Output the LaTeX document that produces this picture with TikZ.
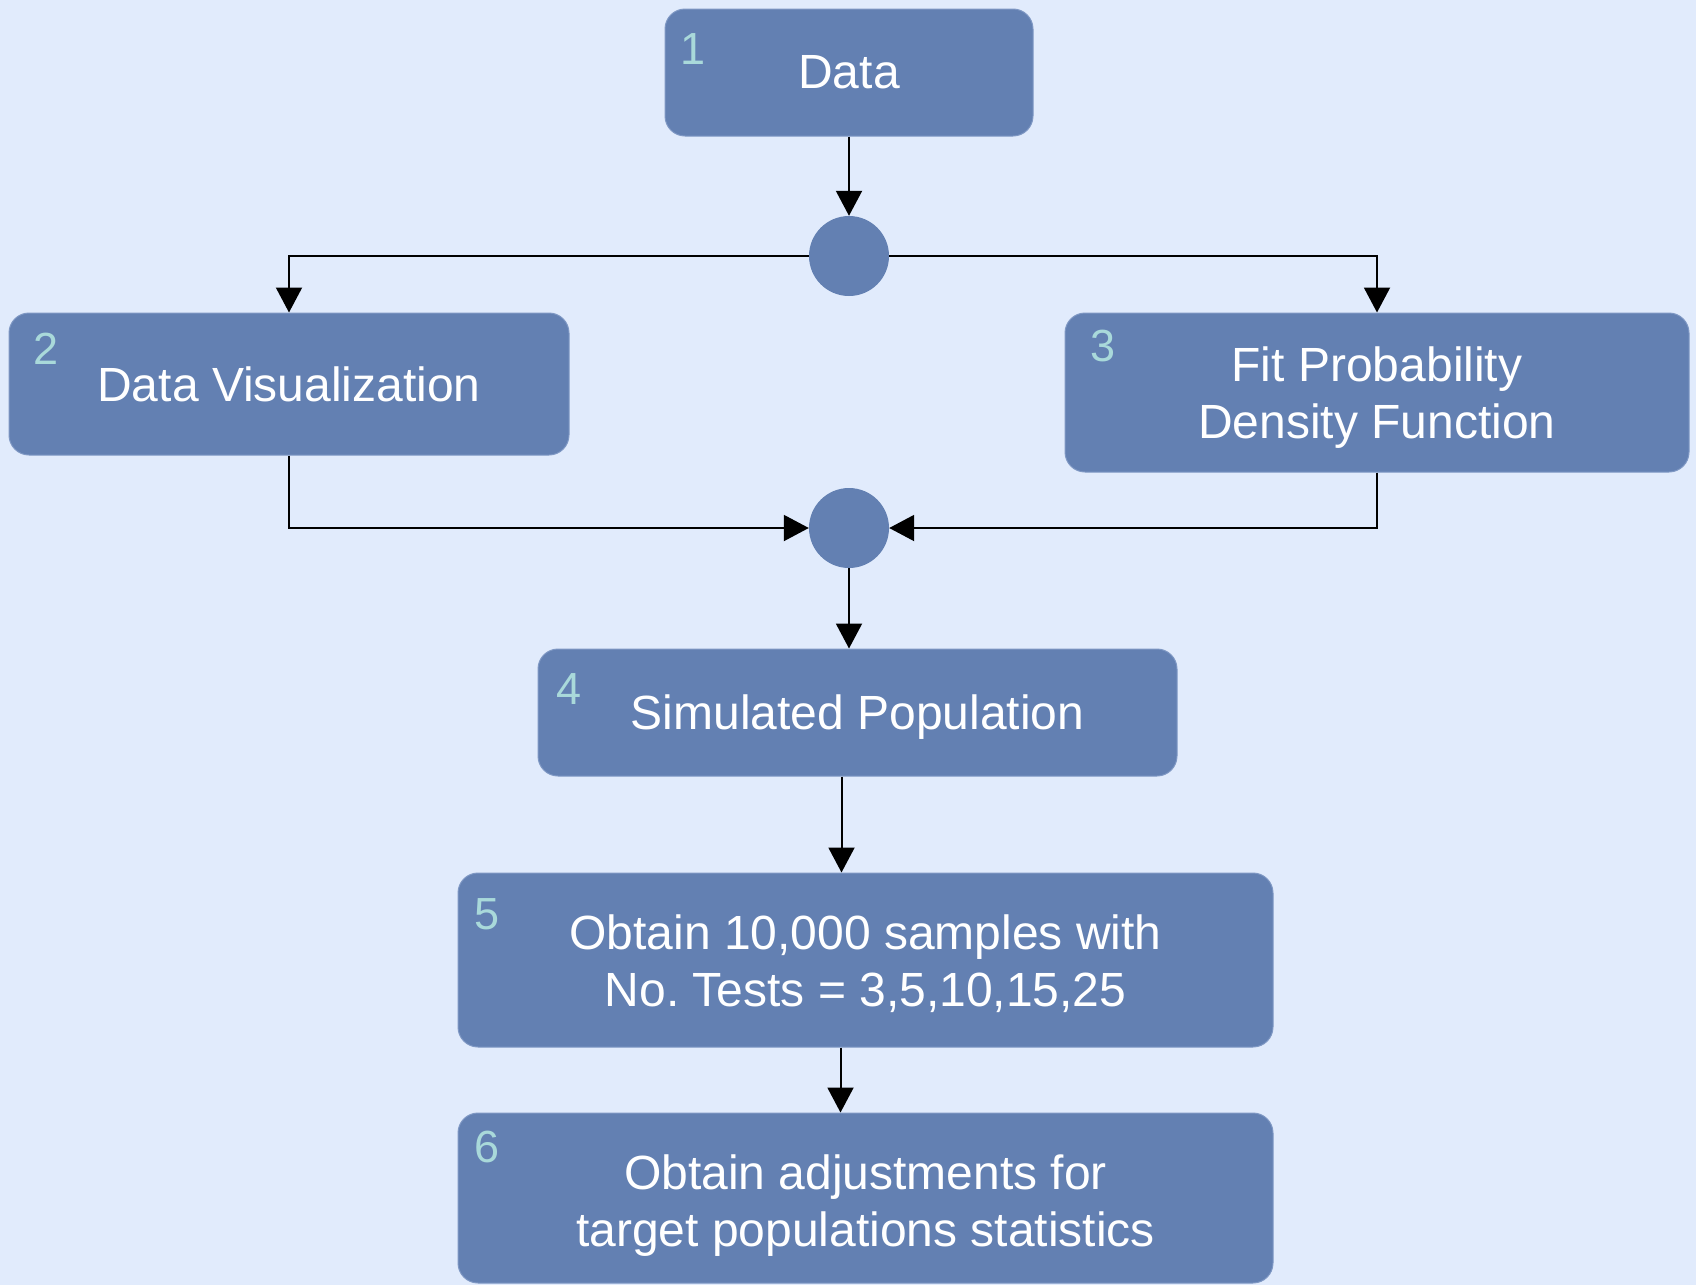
\documentclass[tikz,border=0pt]{standalone}
\usepackage{fontspec}
\setmainfont{Liberation Sans}
\usepackage{tikz}
\usetikzlibrary{arrows.meta}
\definecolor{boxblue}{HTML}{6380B2}
\definecolor{boxedge}{HTML}{7F98C4}
\definecolor{bgblue}{HTML}{E1EBFC}
\definecolor{numteal}{HTML}{A9D9DA}
\newcommand{\vpad}[1]{\rule{0pt}{#1}}
\frenchspacing
\tikzset{
  stepbox/.style={rectangle, rounded corners=20pt, fill=boxblue, draw=boxedge,
    line width=1pt, text=white, align=center, inner sep=0pt,
    font=\fontsize{48}{57}\selectfont},
  junction/.style={circle, fill=boxblue, minimum size=80pt, inner sep=0pt},
  stepnum/.style={anchor=base west, inner sep=0pt, text=numteal,
    font=\fontsize{45}{50}\selectfont},
  flow/.style={line width=2pt, -{Triangle[length=25pt,width=26pt]}}
}
\begin{document}
\begin{tikzpicture}[x=1pt,y=-1pt]
        \useasboundingbox[fill=bgblue] (0,0) rectangle (1696,1285);

        \node[stepbox, minimum width=368pt, minimum height=127pt] (data) at (849,72.5) {Data};
        \node[junction] (split) at (849,256) {};
        \node[stepbox, minimum width=560pt, minimum height=142pt] (vis) at (289,384) {Data Visualization};
        \node[stepbox, minimum width=624pt, minimum height=159pt] (fit) at (1377,392.5) {\vpad{44pt}Fit Probability\\Density Function};
        \node[junction] (merge) at (849,528) {};
        \node[stepbox, minimum width=639pt, minimum height=127pt] (simpop) at (857.5,712.5) {\vpad{43pt}Simulated Population};
        \node[stepbox, minimum width=815pt, minimum height=174pt] (samples) at (865.5,960) {\vpad{43pt}Obtain 10,000 samples with\\No. Tests = 3,5,10,15,25};
        \node[stepbox, minimum width=815pt, minimum height=170pt] (adjust) at (865.5,1198) {\vpad{50pt}Obtain adjustments for\\target populations statistics};

        % step numbers
        \node[stepnum] (n1) at ([xshift=16pt,yshift=-56pt]data.north west) {1};
        \node[stepnum] (n2) at ([xshift=25pt,yshift=-52pt]vis.north west) {2};
        \node[stepnum] (n3) at ([xshift=26pt,yshift=-49pt]fit.north west) {3};
        \node[stepnum] (n4) at ([xshift=19pt,yshift=-56pt]simpop.north west) {4};
        \node[stepnum] (n5) at ([xshift=17pt,yshift=-57pt]samples.north west) {5};
        \node[stepnum] (n6) at ([xshift=17pt,yshift=-50pt]adjust.north west) {6};

        \draw[flow] (data.south) -- (split.north);
        \draw[flow] (split.west) -| (vis.north);
        \draw[flow] (split.east) -| (fit.north);
        \draw[flow] (vis.south) |- (merge.west);
        \draw[flow] (fit.south) |- (merge.east);
        \draw[flow] (merge.south) -- (merge.south |- simpop.north);
        \draw[flow] ([xshift=-16pt]simpop.south) -- ([xshift=-24pt]samples.north);
        \draw[flow] ([xshift=-25pt]samples.south) -- ([xshift=-25pt]adjust.north);
      \end{tikzpicture}
\end{document}
